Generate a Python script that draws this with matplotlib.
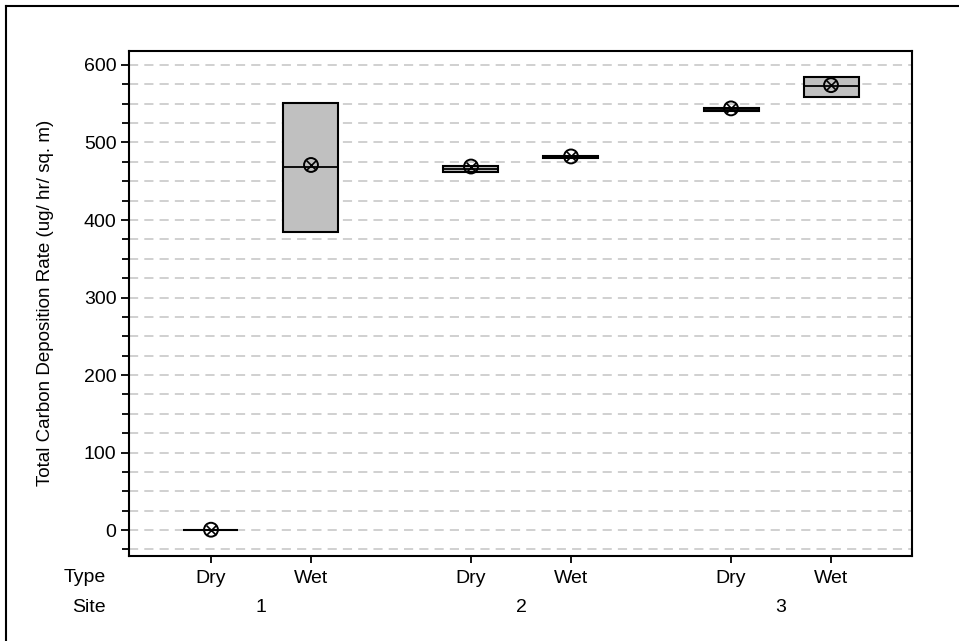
import matplotlib
matplotlib.use("Agg")
import matplotlib.pyplot as plt
import matplotlib.transforms as mtransforms
from matplotlib.lines import Line2D
from matplotlib.ticker import MultipleLocator

plt.rcParams['font.family'] = ['Liberation Sans', 'DejaVu Sans']

# data
sites = ["1", "2", "3"]
types = ["Dry", "Wet", "Dry", "Wet", "Dry", "Wet"]
positions = [1.0, 2.0, 3.6, 4.6, 6.2, 7.2]
q1 = [0.5, 385.0, 462.0, 480.0, 541.0, 559.0]
medians = [0.5, 469.0, 466.0, 481.5, 543.0, 572.5]
q3 = [0.5, 551.0, 470.0, 483.0, 544.5, 584.0]
means = [0.5, 471.0, 469.0, 482.0, 544.0, 574.0]

fs = 14

fig = plt.figure(figsize=(9.59, 6.41), dpi=100)
ax = fig.add_axes([0.1345, 0.1331, 0.8165, 0.7873])

# box stats (no whiskers beyond the box)
stats = []
for i in range(len(positions)):
    stats.append({"q1": q1[i], "med": medians[i], "q3": q3[i],
                  "whislo": q1[i], "whishi": q3[i], "mean": means[i]})

ax.bxp(stats, positions=positions, widths=0.55, patch_artist=True,
       showfliers=False, showmeans=False, showcaps=False,
       boxprops=dict(facecolor="#c0c0c0", edgecolor="black", linewidth=1.5),
       medianprops=dict(color="black", linewidth=1.3),
       whiskerprops=dict(color="black", linewidth=1.3))

# mean marker: circle with an x
ax.scatter(positions, means, s=100, facecolors="none", edgecolors="black",
           linewidths=1.4, zorder=5)
ax.scatter(positions, means, s=50, marker="x", color="black",
           linewidths=1.2, zorder=5)

ax.set_xlim(0.18, 8.01)
ax.set_ylim(-33, 618)
ax.yaxis.set_major_locator(MultipleLocator(100))
ax.yaxis.set_minor_locator(MultipleLocator(25))
ax.grid(True, which="both", axis="y", color="#c4c4c4", linestyle=(0, (6, 4)),
        linewidth=1.1)
ax.set_axisbelow(True)

ax.set_xticks(positions)
ax.set_xticklabels(types, fontsize=fs)
ax.tick_params(axis="x", direction="out", length=5, width=1.3, pad=5)
ax.tick_params(axis="y", which="major", direction="out", length=6, width=1.3,
               labelsize=fs, pad=3)
ax.tick_params(axis="y", which="minor", direction="out", length=5, width=1.3)
for sp in ax.spines.values():
    sp.set_linewidth(1.5)

ax.set_ylabel("Total Carbon Deposition Rate (ug/ hr/ sq. m)", fontsize=13.5)
ax.yaxis.set_label_coords(-0.096, 0.5)

# second row of category labels (site) and row headers
trans = mtransforms.blended_transform_factory(ax.transData, fig.transFigure)
for k, s in enumerate(sites):
    xc = (positions[2 * k] + positions[2 * k + 1]) / 2
    ax.text(xc, 1 - 607 / 641, s, transform=trans, ha="center", va="center",
            fontsize=fs)
fig.text(106 / 959, 1 - 577 / 641, "Type", ha="right", va="center", fontsize=fs)
fig.text(106 / 959, 1 - 607 / 641, "Site", ha="right", va="center", fontsize=fs)

# outer frame
fig.add_artist(Line2D([6 / 959, 6 / 959], [0, 1 - 6 / 641], transform=fig.transFigure,
                      color="black", linewidth=1.5))
fig.add_artist(Line2D([6 / 959, 1], [1 - 6 / 641, 1 - 6 / 641], transform=fig.transFigure,
                      color="black", linewidth=1.5))

fig.savefig("out.png", dpi=100)
